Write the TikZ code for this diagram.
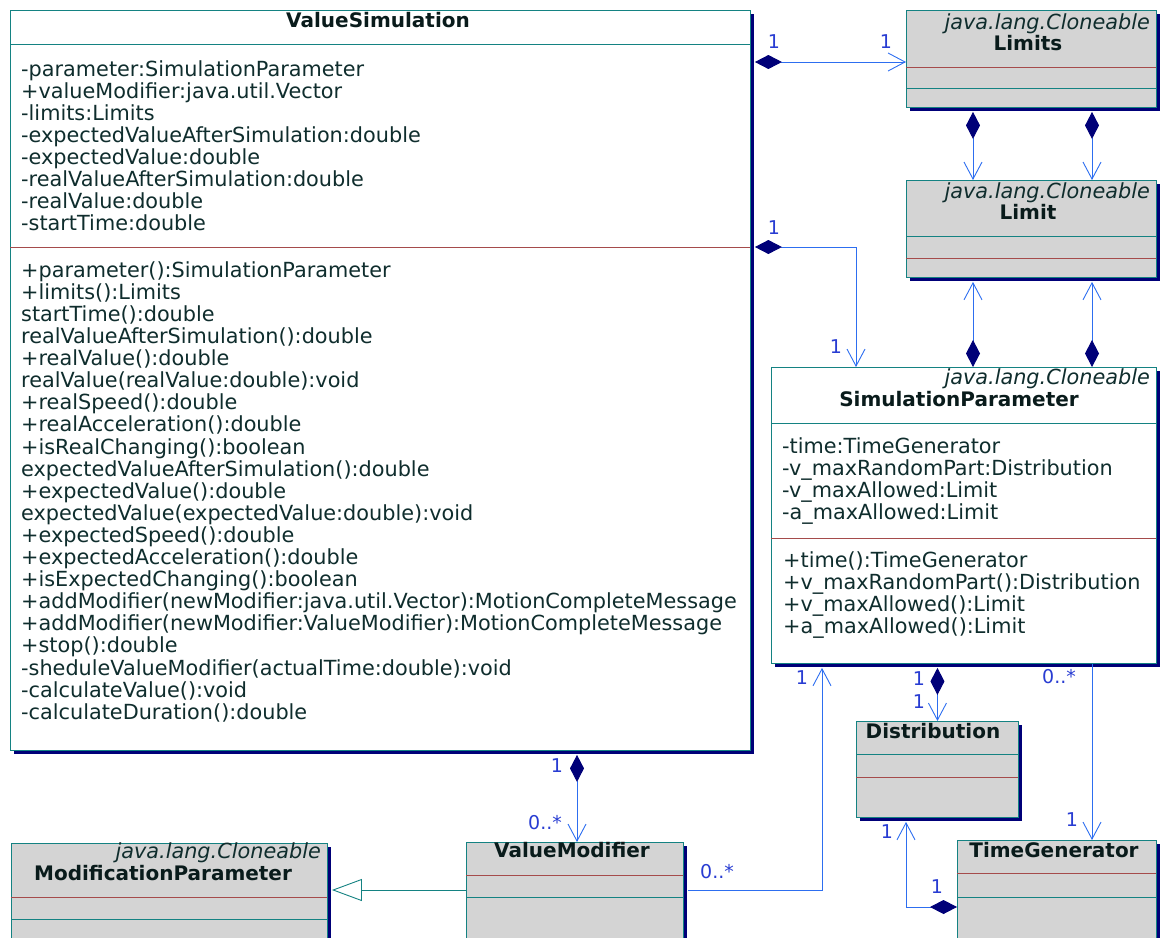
\documentclass[tikz,border=0pt]{standalone}
\usepackage{fontspec}
\setmainfont{DejaVu Sans}
\usetikzlibrary{arrows.meta,shadows,calc}

\definecolor{boxline}{RGB}{20,130,130}
\definecolor{sepred}{RGB}{165,75,75}
\definecolor{boxgrey}{RGB}{212,212,212}
\definecolor{shadenavy}{RGB}{0,0,120}
\definecolor{linkblue}{RGB}{45,110,240}
\definecolor{multblue}{RGB}{40,60,210}
\definecolor{txt}{RGB}{15,45,45}

\tikzset{
  classbox/.style={draw=boxline, line width=0.9pt, fill=white, anchor=north west, inner sep=0pt,
    drop shadow={shadow xshift=4pt, shadow yshift=-4pt, fill=shadenavy, draw=none, opacity=1}},
  greybox/.style={classbox, fill=boxgrey},
  members/.style={anchor=north west, align=left, inner sep=0pt, text=txt,
    font=\fontsize{20.8}{22.1}\selectfont},
  classname/.style={anchor=base, inner sep=0pt, text=txt!60!black,
    font=\fontsize{20}{24}\selectfont\bfseries},
  stereo/.style={anchor=base east, inner sep=0pt, text=txt,
    font=\fontsize{20.8}{24}\selectfont\itshape},
  mult/.style={inner sep=0pt, text=multblue, font=\fontsize{19}{22}\selectfont},
  hdr/.style={draw=boxline, line width=0.9pt},
  sep/.style={draw=sepred, line width=0.9pt},
  comp/.style={draw=linkblue, line width=0.9pt,
    {Diamond[length=27pt, width=14pt, color=shadenavy]}-{Straight Barb[length=17pt, width=18pt]}},
  nav/.style={draw=linkblue, line width=0.9pt, -{Straight Barb[length=17pt, width=18pt]}},
  gen/.style={draw=boxline, line width=0.9pt, -{Triangle[open, length=30pt, width=22pt, fill=white]}}
}

\begin{document}
\begin{tikzpicture}[x=1pt, y=-1pt]

  \useasboundingbox (0,0) rectangle (1164,937);
  \clip (0,0) rectangle (1164,937);

  % ValueSimulation
  \node[classbox, minimum width=740pt, minimum height=740pt] (vs) at (10,10) {};
  \draw[hdr] (10,44) -- (750,44);
  \draw[sep] (10,247) -- (750,247);
  \node[classname] (vsname) at (378,27) {ValueSimulation};
  \node[members] (vsattr) at (21,60.2) {-parameter:SimulationParameter\\
    +valueModifier:java.util.Vector\\
    -limits:Limits\\
    -expectedValueAfterSimulation:double\\
    -expectedValue:double\\
    -realValueAfterSimulation:double\\
    -realValue:double\\
    -startTime:double};
  \node[members] (vsops) at (21,261.2) {+parameter():SimulationParameter\\
    +limits():Limits\\
    startTime():double\\
    realValueAfterSimulation():double\\
    +realValue():double\\
    realValue(realValue:double):void\\
    +realSpeed():double\\
    +realAcceleration():double\\
    +isRealChanging():boolean\\
    expectedValueAfterSimulation():double\\
    +expectedValue():double\\
    expectedValue(expectedValue:double):void\\
    +expectedSpeed():double\\
    +expectedAcceleration():double\\
    +isExpectedChanging():boolean\\
    +addModifier(newModifier:java.util.Vector):MotionCompleteMessage\\
    +addModifier(newModifier:ValueModifier):MotionCompleteMessage\\
    +stop():double\\
    -sheduleValueModifier(actualTime:double):void\\
    -calculateValue():void\\
    -calculateDuration():double};

  % Limits
  \node[greybox, minimum width=250pt, minimum height=97pt] (limits) at (906,10) {};
  \draw[sep] (906,67) -- (1156,67);
  \draw[hdr] (906,88) -- (1156,88);
  \node[stereo] (limitsst) at (1150,29) {java.lang.Cloneable};
  \node[classname] (limitsname) at (1028,50) {Limits};

  % Limit
  \node[greybox, minimum width=250pt, minimum height=97pt] (limit) at (906,180) {};
  \draw[hdr] (906,236) -- (1156,236);
  \draw[sep] (906,258) -- (1156,258);
  \node[stereo] (limitst) at (1150,198) {java.lang.Cloneable};
  \node[classname] (limitname) at (1028,219) {Limit};

  % SimulationParameter
  \node[classbox, minimum width=385pt, minimum height=296pt] (sp) at (771,367) {};
  \draw[hdr] (771,423) -- (1156,423);
  \draw[sep] (771,538) -- (1156,538);
  \node[stereo] (spst) at (1150,384) {java.lang.Cloneable};
  \node[classname] (spname) at (959,406) {SimulationParameter};
  \node[members] (spattr) at (782,437.2) {-time:TimeGenerator\\
    -v\_maxRandomPart:Distribution\\
    -v\_maxAllowed:Limit\\
    -a\_maxAllowed:Limit};
  \node[members] (spops) at (783,551.2) {+time():TimeGenerator\\
    +v\_maxRandomPart():Distribution\\
    +v\_maxAllowed():Limit\\
    +a\_maxAllowed():Limit};

  % Distribution
  \node[greybox, minimum width=162pt, minimum height=96pt] (dist) at (856,721) {};
  \draw[hdr] (856,754) -- (1018,754);
  \draw[sep] (856,777) -- (1018,777);
  \node[classname] (distname) at (933,738) {Distribution};

  % TimeGenerator
  \node[greybox, minimum width=199pt, minimum height=110pt] (tg) at (957,840) {};
  \draw[sep] (957,873) -- (1156,873);
  \draw[hdr] (957,897) -- (1156,897);
  \node[classname] (tgname) at (1054,857) {TimeGenerator};

  % ValueModifier
  \node[greybox, minimum width=217pt, minimum height=110pt] (vm) at (466,842) {};
  \draw[sep] (466,875) -- (683,875);
  \draw[hdr] (466,897) -- (683,897);
  \node[classname] (vmname) at (572,857) {ValueModifier};

  % ModificationParameter
  \node[greybox, minimum width=316pt, minimum height=110pt] (mp) at (11,843) {};
  \draw[sep] (11,897) -- (327,897);
  \draw[hdr] (11,919) -- (327,919);
  \node[stereo] (mpst) at (321,858) {java.lang.Cloneable};
  \node[classname] (mpname) at (163,880) {ModificationParameter};

  % hulpcoordinaten
  \coordinate (la) at (973,0);
  \coordinate (lb) at (1092,0);
  \coordinate (ra) at (0,62);
  \coordinate (rb) at (856,247);
  \coordinate (rc) at (906,907);
  \coordinate (rd) at (822,890);
  \coordinate (re) at (577,0);

  % Limits - Limit
  \draw[comp] ($(limits.south -| la)+(0,4)$) -- (limit.north -| la);
  \draw[comp] ($(limits.south -| lb)+(0,4)$) -- (limit.north -| lb);

  % SimulationParameter - Limit
  \draw[comp] (sp.north -| la) -- ($(limit.south -| la)+(0,4)$);
  \draw[comp] (sp.north -| lb) -- ($(limit.south -| lb)+(0,4)$);

  % ValueSimulation - Limits
  \draw[comp] ($(vs.east |- ra)+(4,0)$) -- (limits.west |- ra);
  \node[mult] (m1) at (774,42) {1};
  \node[mult] (m2) at (886,42) {1};

  % ValueSimulation - SimulationParameter
  \draw[comp] ($(vs.east |- rb)+(4,0)$) -| (sp.north -| rb);
  \node[mult] (m3) at (774,228) {1};
  \node[mult] (m4) at (836,347) {1};

  % SimulationParameter - Distribution
  \draw[comp] ($(sp.south -| dist.north)+(0,4)$) -- (dist.north);
  \node[mult] (m5) at (919,679) {1};
  \node[mult] (m6) at (919,702) {1};

  % SimulationParameter - TimeGenerator
  \draw[nav] (sp.south -| lb) -- (tg.north -| lb);
  \node[mult] (m7) at (1059,677) {0..*};
  \node[mult] (m8) at (1072,820) {1};

  % TimeGenerator - Distribution
  \draw[comp] (tg.west |- rc) -| ($(dist.south -| rc)+(0,4)$);
  \node[mult] (m9) at (887,832) {1};
  \node[mult] (m10) at (937,887) {1};

  % ValueModifier - SimulationParameter
  \draw[nav] ($(vm.east |- rd)+(4,0)$) -| ($(sp.south -| rd)+(0,4)$);
  \node[mult] (m11) at (717,872) {0..*};
  \node[mult] (m12) at (802,678) {1};

  % ValueSimulation - ValueModifier
  \draw[comp] ($(vs.south -| re)+(0,4)$) -- (vm.north -| re);
  \node[mult] (m13) at (557,766) {1};
  \node[mult] (m14) at (545,823) {0..*};

  % ValueModifier - ModificationParameter
  \draw[gen] (vm.west |- rd) -- ($(mp.east |- rd)+(4,0)$);

\end{tikzpicture}
\end{document}
